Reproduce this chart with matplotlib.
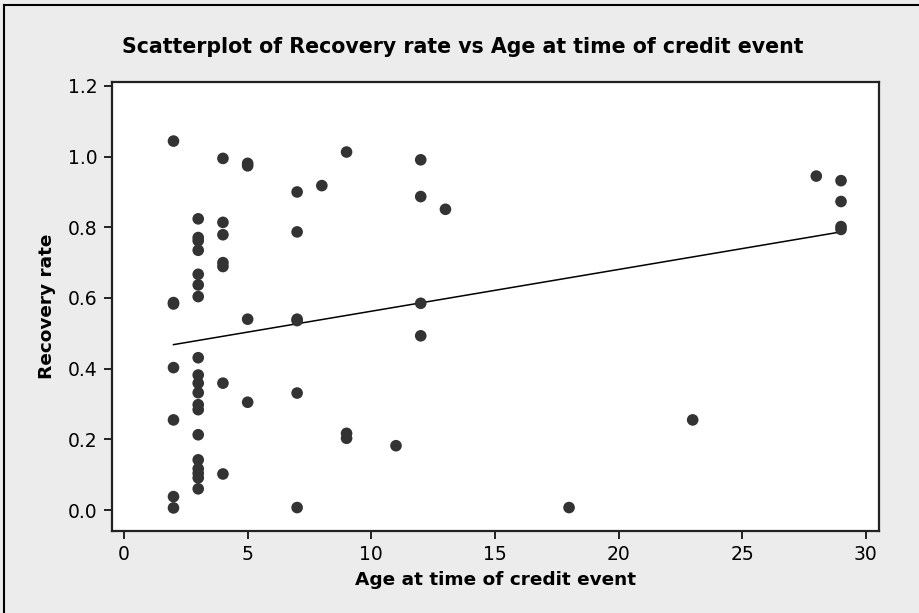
import numpy as np
import matplotlib
matplotlib.use("Agg")
import matplotlib.pyplot as plt
from matplotlib.lines import Line2D

# age at time of credit event (years) and recovery rate
age = [2] * 7 + [3] * 19 + [4] * 7 + [5] * 4 + [7] * 6 + [8] + [9] * 3 \
    + [11] + [12] * 4 + [13, 18, 23, 28] + [29] * 4
recovery = [1.044, 0.587, 0.583, 0.403, 0.255, 0.038, 0.006,
            0.824, 0.771, 0.762, 0.735, 0.667, 0.637, 0.604, 0.431, 0.382,
            0.359, 0.332, 0.298, 0.284, 0.213, 0.142, 0.117, 0.104, 0.091,
            0.060,
            0.995, 0.814, 0.779, 0.700, 0.689, 0.359, 0.102,
            0.981, 0.974, 0.540, 0.305,
            0.900, 0.787, 0.540, 0.536, 0.331, 0.007,
            0.918,
            1.013, 0.217, 0.203,
            0.182,
            0.991, 0.887, 0.585, 0.493,
            0.851, 0.007, 0.255, 0.945,
            0.932, 0.873, 0.802, 0.794]

x_ticks = [0, 5, 10, 15, 20, 25, 30]
y_ticks = [0.0, 0.2, 0.4, 0.6, 0.8, 1.0, 1.2]

x = np.array(age, dtype=float)
y = np.array(recovery)

# least squares fit line
slope, intercept = np.polyfit(x, y, 1)
x_fit = np.array([x.min(), x.max()])
y_fit = intercept + slope * x_fit

fig = plt.figure(figsize=(9.2, 6.13), dpi=100, facecolor="#ececec")
ax = fig.add_axes([0.1214, 0.1342, 0.8344, 0.7325])
ax.set_facecolor("white")

ax.scatter(x, y, s=70, color="#333333", edgecolors="none", zorder=3)
ax.plot(x_fit, y_fit, color="black", lw=1.1, zorder=2)

ax.set_xlim(-0.5, 30.55)
ax.set_ylim(-0.0586, 1.212)
ax.set_xticks(x_ticks)
ax.set_yticks(y_ticks)
ax.set_yticklabels([f"{v:.1f}" for v in y_ticks])
ax.tick_params(direction="out", length=6, width=1.2, labelsize=13.5,
               colors="black", pad=4)
for sp in ax.spines.values():
    sp.set_linewidth(1.6)
    sp.set_color("#222222")

ax.set_xlabel("Age at time of credit event", fontsize=13.3,
              fontweight="bold", labelpad=5)
ax.set_ylabel("Recovery rate", fontsize=13.3, fontweight="bold", labelpad=9)

fig.text(0.503, 0.923, "Scatterplot of Recovery rate vs Age at time of credit event",
         ha="center", va="center", fontsize=14.8, fontweight="bold")

# outer frame (left and top edges)
fig.add_artist(Line2D([0.0045, 0.0045], [0, 0.992], transform=fig.transFigure,
                      color="black", lw=1.5))
fig.add_artist(Line2D([0.0045, 1], [0.992, 0.992], transform=fig.transFigure,
                      color="black", lw=1.5))

fig.savefig("out.png", dpi=100, facecolor=fig.get_facecolor())
